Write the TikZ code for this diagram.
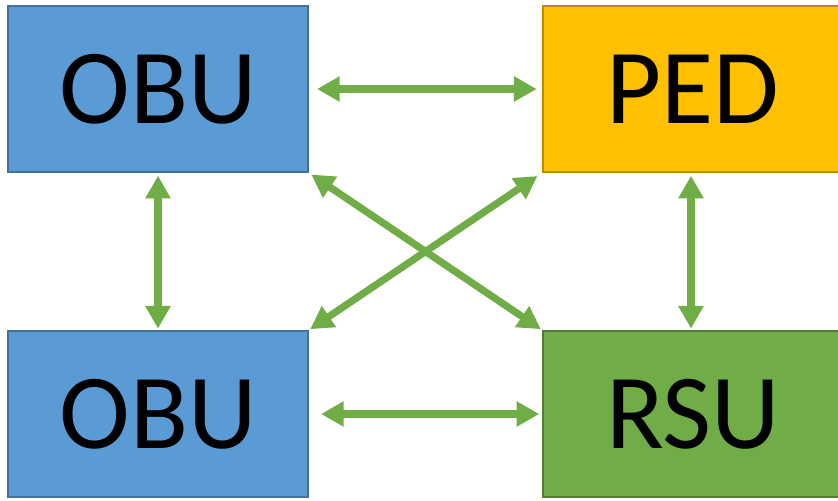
\documentclass[tikz,border=0pt]{standalone}
\usepackage{fontspec}
\setmainfont{Carlito}
\usetikzlibrary{arrows.meta}
\definecolor{obufill}{HTML}{5B9BD5}
\definecolor{obuline}{HTML}{41719C}
\definecolor{pedfill}{HTML}{FFC000}
\definecolor{pedline}{HTML}{BC8C00}
\definecolor{rsufill}{HTML}{70AD47}
\definecolor{rsuline}{HTML}{507E32}
\definecolor{linkgreen}{HTML}{70AD47}
\tikzset{
  unit/.style={draw, line width=1.6pt, minimum width=225pt, minimum height=124.5pt,
    inner sep=0pt, font=\fontsize{80}{80}\selectfont},
  obubox/.style={unit, fill=obufill, draw=obuline},
  pedbox/.style={unit, fill=pedfill, draw=pedline},
  rsubox/.style={unit, fill=rsufill, draw=rsuline},
  link/.style={draw=linkgreen, line width=5.4pt,
    {Triangle[width=18pt,length=17pt]}-{Triangle[width=18pt,length=17pt]}}
}
\begin{document}
\begin{tikzpicture}[x=0.75pt, y=-0.75pt]
\useasboundingbox (0,0) rectangle (838,500);
\fill[white] (0,0) rectangle (838,500);
\node[obubox] (obuA) at (158,89) {OBU};
\node[pedbox] (ped) at (693,89) {PED};
\node[obubox] (obuB) at (158,414) {OBU};
\node[rsubox] (rsu) at (693,414) {RSU};
\draw[link, shorten <=6pt, shorten >=4pt] (obuA.east) -- (ped.west);
\draw[link, shorten <=9pt, shorten >=2pt] (obuB.east) -- (obuB.east -| rsu.west);
\draw[link, shorten <=2pt, shorten >=1pt] (obuA.south) -- (obuA.south |- obuB.north);
\draw[link, shorten <=2pt, shorten >=1pt] (ped.south -| 691,0) -- (rsu.north -| 691,0);
\draw[link, shorten <=2pt, shorten >=1pt] (obuA.south east) -- (rsu.north west);
\draw[link, shorten <=4pt, shorten >=1pt] (ped.south west) -- (obuB.north east);
\end{tikzpicture}
\end{document}
